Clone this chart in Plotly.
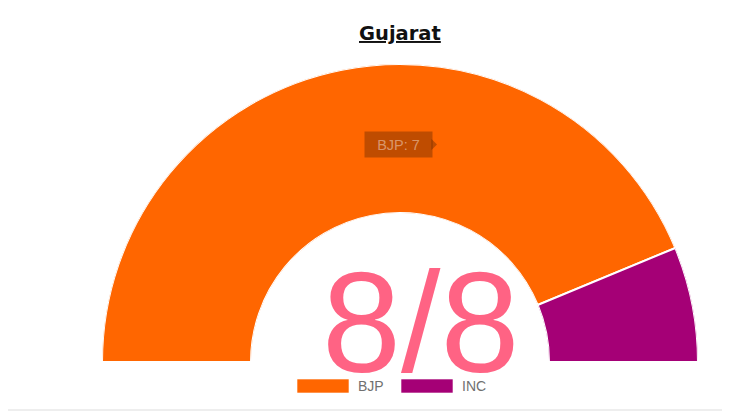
import plotly.graph_objects as go

# seat data for Gujarat
parties = ["BJP", "INC"]
seats = [7, 1]
colors = ["#FF6600", "#A50076"]
total_seats = 8
title_text = "Gujarat"

# each party's share of the half circle
spans = [180 * s / total_seats for s in seats]
centers = []
start = 180
for sp in spans:
    centers.append(start - sp / 2)
    start -= sp

fig = go.Figure()
for name, sp, c, col in zip(parties, spans, centers, colors):
    fig.add_trace(go.Barpolar(
        r=[1], theta=[c], width=[sp], base=0,
        name=name,
        marker=dict(color=col, line=dict(color="white", width=2)),
        showlegend=False,
    ))

W, H = 730, 419
OFF = 8  # page body margin


def px(x):
    return (x - OFF) / W


def py(y):
    return 1 - (y - OFF) / H


fig.update_layout(
    width=W, height=H,
    margin=dict(l=0, r=0, t=0, b=0),
    paper_bgcolor="white",
    polar=dict(
        domain=dict(x=[px(102), px(698)], y=[py(362), py(64)]),
        sector=[0, 180],
        hole=0.5,
        bgcolor="white",
        radialaxis=dict(visible=False, range=[0, 1]),
        angularaxis=dict(visible=False),
        bargap=0,
    ),
)

# title
fig.add_annotation(
    text="<b><u>" + title_text + "</u></b>", x=px(400), y=py(33),
    xref="paper", yref="paper", showarrow=False, yanchor="middle",
    font=dict(family="DejaVu Sans", size=19.5, color="#111111"),
)

# center count
fig.add_annotation(
    text="%d/%d" % (sum(seats), total_seats), x=px(420), y=py(322),
    xref="paper", yref="paper", showarrow=False, yanchor="middle",
    font=dict(family="Liberation Sans", size=142, color="#FF6384"),
)

# tooltip
fig.add_annotation(
    text="%s: %d" % (parties[0], seats[0]), x=px(398), y=py(144.5),
    xref="paper", yref="paper", showarrow=False, yanchor="middle",
    width=55, height=13, bgcolor="rgba(0,0,0,0.25)", borderpad=6,
    font=dict(family="Liberation Sans", size=14.5, color="rgba(255,255,255,0.42)"),
)
fig.add_shape(
    type="path", xref="paper", yref="paper",
    path="M %f %f L %f %f L %f %f Z" % (px(431.5), py(139), px(437), py(144.5), px(431.5), py(150)),
    fillcolor="rgba(0,0,0,0.25)", line=dict(width=0),
)

# legend drawn by hand (wide chart.js style boxes)
leg_x = [297, 401]
for i, name in enumerate(parties):
    x0 = leg_x[i]
    fig.add_shape(
        type="rect", xref="paper", yref="paper",
        x0=px(x0), x1=px(x0 + 52), y0=py(393), y1=py(379),
        fillcolor=colors[i], line=dict(color="rgba(255,255,255,0.6)", width=1),
    )
    fig.add_annotation(
        text=name, x=px(x0 + 59), y=py(386), xref="paper", yref="paper",
        showarrow=False, xanchor="left", yanchor="middle",
        font=dict(family="Liberation Sans", size=14, color="#707070"),
    )

# page divider line at bottom
fig.add_shape(
    type="line", xref="paper", yref="paper",
    x0=0, x1=1, y0=py(410), y1=py(410),
    line=dict(color="#dddddd", width=1),
)

fig.write_html("out.html")
